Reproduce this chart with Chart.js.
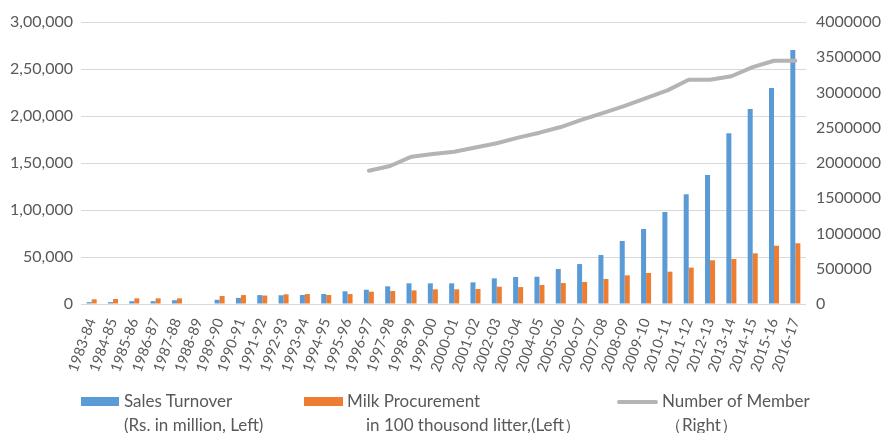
<!DOCTYPE html>
<html>
<head>
<meta charset="utf-8">
<script src="https://cdn.jsdelivr.net/npm/chart.js@4.4.1/dist/chart.umd.min.js"></script>
<style>
  html, body { margin: 0; padding: 0; background: #ffffff; }
  #wrap { position: relative; width: 882px; height: 433px; }
  #chart { position: absolute; left: 0; top: 0; }
  .lg { position: absolute; font-family: Lato, "Open Sans", sans-serif; font-size: 17px; color: #595959; white-space: nowrap; line-height: 20px; }
  .sw { position: absolute; }
</style>
</head>
<body>
<div id="wrap">
  <canvas id="chart" width="882" height="433"></canvas>
  <div class="sw" style="left:81px;top:397px;width:38px;height:9px;background:#5b9bd5;"></div>
  <div class="lg" style="left:124px;top:391px;">Sales Turnover</div>
  <div class="lg" style="left:124px;top:415px;">(Rs. in million, Left)</div>
  <div class="sw" style="left:304px;top:397px;width:39px;height:9px;background:#ed7d31;"></div>
  <div class="lg" style="left:347px;top:391px;">Milk Procurement</div>
  <div class="lg" style="left:366px;top:415px;">in 100 thousond litter,(Left）</div>
  <div class="sw" style="left:617px;top:400px;width:41px;height:4px;background:#b4b4b4;border-radius:2px;"></div>
  <div class="lg" style="left:662px;top:391px;">Number of Member</div>
  <div class="lg" style="left:665px;top:415px;">（Right）</div>
</div>
<script>
// Fiscal years
const categories = [
  '1983-84','1984-85','1985-86','1986-87','1987-88','1988-89','1989-90','1990-91',
  '1991-92','1992-93','1993-94','1994-95','1995-96','1996-97','1997-98','1998-99',
  '1999-00','2000-01','2001-02','2002-03','2003-04','2004-05','2005-06','2006-07',
  '2007-08','2008-09','2009-10','2010-11','2011-12','2012-13','2013-14','2014-15',
  '2015-16','2016-17'
];

// Sales turnover, Rs. in million (left axis)
const salesTurnover = [
  2000, 2000, 3000, 3000, 4000, null, 4500, 6500,
  9500, 9300, 9600, 10600, 13500, 15200, 18800, 22000,
  22000, 22000, 23000, 27300, 28700, 29000, 37200, 42500,
  52100, 67000, 79800, 97900, 116700, 137200, 181600, 207400,
  229800, 270200
];

// Milk procurement, in 100 thousand litres (left axis)
const milkProcurement = [
  5000, 5300, 6000, 6000, 6000, null, 8500, 9500,
  9000, 10300, 10600, 9600, 10600, 13100, 13800, 14500,
  15600, 15600, 16000, 18400, 18000, 20200, 22300, 23400,
  26600, 30500, 33000, 34400, 38700, 46500, 47900, 53900,
  62000, 64600
];

// Number of members (right axis)
const members = [
  null, null, null, null, null, null, null, null,
  null, null, null, null, null, 1891000, 1957000, 2090000,
  2128000, 2160000, 2220000, 2280000, 2360000, 2430000, 2510000, 2615000,
  2710000, 2810000, 2920000, 3030000, 3180000, 3180000, 3230000, 3360000,
  3450000, 3450000
];

// Left axis tick labels (Indian digit grouping)
const leftTickLabels = ['0', '50,000', '1,00,000', '1,50,000', '2,00,000', '2,50,000', '3,00,000'];

const FAMILY = 'Lato, "Open Sans", sans-serif';
const TEXT = '#595959';

new Chart(document.getElementById('chart'), {
  type: 'bar',
  data: {
    labels: categories,
    datasets: [
      {
        label: 'Number of Member',
        type: 'line',
        data: members,
        yAxisID: 'y1',
        borderColor: '#b4b4b4',
        borderWidth: 4,
        pointRadius: 0,
        pointHoverRadius: 0,
        tension: 0,
        spanGaps: false,
        borderCapStyle: 'round',
        borderJoinStyle: 'round',
        order: 0
      },
      {
        label: 'Sales Turnover',
        data: salesTurnover,
        yAxisID: 'y',
        backgroundColor: '#5b9bd5',
        barPercentage: 1,
        categoryPercentage: 0.47,
        order: 1
      },
      {
        label: 'Milk Procurement',
        data: milkProcurement,
        yAxisID: 'y',
        backgroundColor: '#ed7d31',
        barPercentage: 1,
        categoryPercentage: 0.47,
        order: 1
      }
    ]
  },
  options: {
    responsive: false,
    animation: false,
    layout: { padding: { top: 22, right: 0, bottom: 0, left: 0 } },
    plugins: {
      legend: { display: false },
      tooltip: { enabled: false }
    },
    scales: {
      x: {
        grid: { display: false, drawTicks: false },
        border: { display: false },
        ticks: {
          color: TEXT,
          font: { family: FAMILY, size: 14.5 },
          minRotation: 70,
          maxRotation: 70,
          autoSkip: false,
          padding: 12
        },
        afterFit: (s) => { s.height = 129; }
      },
      y: {
        position: 'left',
        min: 0,
        max: 300000,
        grid: { color: '#d9d9d9', lineWidth: 1, drawTicks: false },
        border: { display: false },
        ticks: {
          stepSize: 50000,
          color: TEXT,
          font: { family: FAMILY, size: 16 },
          padding: 8,
          callback: (v) => leftTickLabels[Math.round(v / 50000)]
        },
        afterFit: (s) => { s.width = 81; }
      },
      y1: {
        position: 'right',
        min: 0,
        max: 4000000,
        grid: { display: false, drawTicks: false },
        border: { display: false },
        ticks: {
          stepSize: 500000,
          color: TEXT,
          font: { family: FAMILY, size: 16 },
          padding: 10,
          callback: (v) => String(v)
        },
        afterFit: (s) => { s.width = 76; }
      }
    }
  }
});
</script>
</body>
</html>
